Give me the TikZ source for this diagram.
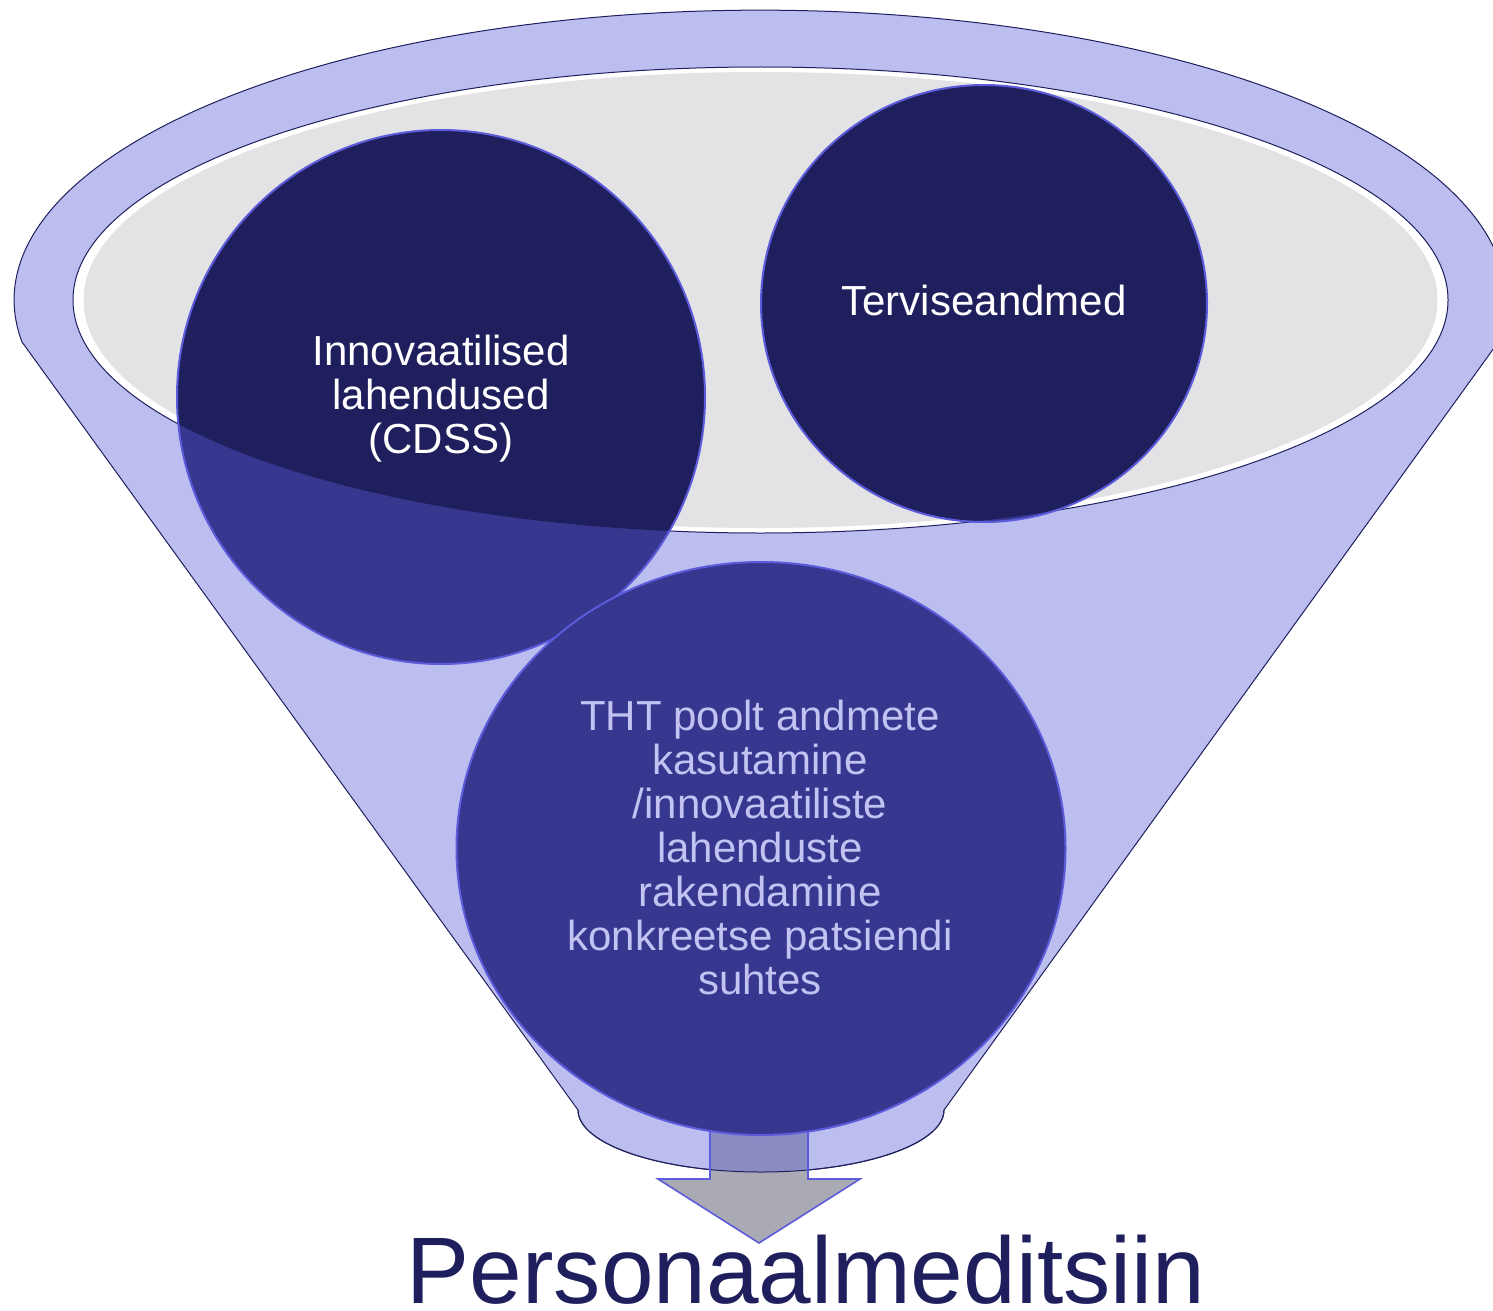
\documentclass[tikz,border=0pt]{standalone}
\usepackage{fontspec}
\setmainfont{Liberation Sans}
\definecolor{lav}{HTML}{BCBEF0}
\definecolor{navy}{HTML}{201F5E}
\definecolor{med}{HTML}{37378F}
\definecolor{edgeblue}{HTML}{5B5BDB}
\definecolor{rimgrey}{HTML}{E3E3E5}
\definecolor{arrowgrey}{HTML}{AAAAB4}
\definecolor{arrowlav}{HTML}{8C8CC4}
\definecolor{lighttext}{HTML}{C2C3F2}
\begin{document}
\begin{tikzpicture}[x=0.5pt,y=-0.5pt,
  funnelline/.style={draw=navy,line width=0.5pt},
  circedge/.style={draw=edgeblue,line width=1pt},
  circtext/.style={align=center,inner sep=0pt,font=\fontsize{21pt}{22pt}\selectfont},
]
\useasboundingbox (0,0) rectangle (1493,1311);
% funnel body
\path[fill=lav,funnelline] (22,342) arc[start angle=171.7,end angle=368.3,x radius=746,y radius=290]
  -- (944,1110) arc[start angle=0,end angle=180,x radius=183,y radius=62] -- cycle;
% rim
\path[fill=white,funnelline] (760.5,300) ellipse[x radius=687.5,y radius=233];
\fill[rimgrey] (760.5,300) ellipse[x radius=677,y radius=228];
% circles 1 and 2
\fill[med] (441,397) ellipse[x radius=264,y radius=267];
\fill[med] (984,303.5) ellipse[x radius=223,y radius=218.5];
\begin{scope}
  \clip (760.5,300) ellipse[x radius=687.5,y radius=233];
  \fill[navy] (441,397) ellipse[x radius=264,y radius=267];
  \fill[navy] (984,303.5) ellipse[x radius=223,y radius=218.5];
\end{scope}
\path[circedge] (441,397) ellipse[x radius=264,y radius=267];
\path[circedge] (984,303.5) ellipse[x radius=223,y radius=218.5];
% arrow
\fill[arrowgrey] (710,1100) -- (808,1100) -- (808,1179) -- (860,1179) -- (759,1243) -- (658,1179) -- (710,1179) -- cycle;
\begin{scope}
  \clip (22,342) arc[start angle=171.7,end angle=368.3,x radius=746,y radius=290]
  -- (944,1110) arc[start angle=0,end angle=180,x radius=183,y radius=62] -- cycle;
  \fill[arrowlav] (710,1100) -- (808,1100) -- (808,1179) -- (860,1179) -- (759,1243) -- (658,1179) -- (710,1179) -- cycle;
\end{scope}
\path[funnelline] (944,1110) arc[start angle=0,end angle=180,x radius=183,y radius=62];
\path[circedge,line width=0.8pt,line join=miter] (710,1100) -- (710,1179) -- (658,1179) -- (759,1243) -- (860,1179) -- (808,1179) -- (808,1100);
% circle 3
\path[fill=med,circedge] (761,848.5) ellipse[x radius=304.5,y radius=286.5];
% texts
\node[circtext,text=white] (innov) at (441,399) {Innovaatilised\\lahendused\\(CDSS)};
\node[circtext,text=white] (terv) at (984,300) {Terviseandmed};
\node[circtext,text=lighttext] (tht) at (760,847) {THT poolt andmete\\kasutamine\\/innovaatiliste\\lahenduste\\rakendamine\\konkreetse patsiendi\\suhtes};
\node[anchor=base,inner sep=0pt,text=navy,font=\fontsize{47.25pt}{50pt}\selectfont] (pm) at (806,1303) {Personaalmeditsiin};
\end{tikzpicture}
\end{document}
